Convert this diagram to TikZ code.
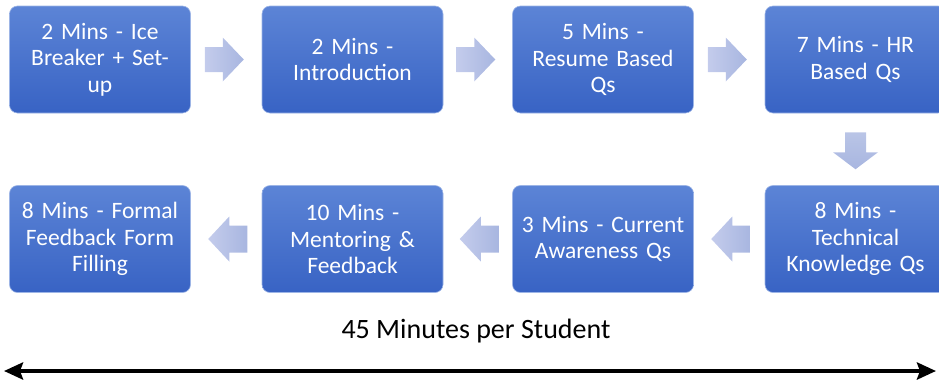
\documentclass[tikz,border=0pt]{standalone}
\usepackage{fontspec}
\setmainfont{Carlito}
\newfontfamily\boxfont[WordSpace=0.75]{Carlito}
\usetikzlibrary{calc,arrows.meta}
\definecolor{boxtop}{RGB}{92,132,214}
\definecolor{boxbot}{RGB}{56,99,196}
\definecolor{arrL}{RGB}{196,204,236}
\definecolor{arrD}{RGB}{168,182,224}
\tikzset{
  stepbox/.style={rectangle, rounded corners=8pt, minimum width=181pt, minimum height=107pt,
    top color=boxtop, bottom color=boxbot, draw=boxtop!60!white, line width=0.6pt,
    text=white, align=center, font=\boxfont\fontsize{23.5}{26.5}\selectfont, inner sep=2pt, text width=170pt},
  blockfill/.style={left color=arrL, right color=arrD, draw=none},
  blockright/.pic={\path[blockfill] (-19.5,-12.5) -- (-1.5,-12.5) -- (-1.5,-22) -- (19.5,0) -- (-1.5,22) -- (-1.5,12.5) -- (-19.5,12.5) -- cycle;},
  blockleft/.pic={\path[blockfill] (19.5,-13.5) -- (1.5,-13.5) -- (1.5,-22.5) -- (-19.5,0) -- (1.5,22.5) -- (1.5,13.5) -- (19.5,13.5) -- cycle;},
  blockdown/.pic={\path[top color=arrD!80!white, bottom color=arrD, draw=none] (-10.5,-18.5) -- (-10.5,1.5) -- (-22.5,1.5) -- (0,18.5) -- (22.5,1.5) -- (10.5,1.5) -- (10.5,-18.5) -- cycle;}
}
\begin{document}
\begin{tikzpicture}[x=1pt,y=-1pt]
\useasboundingbox (0,0) rectangle (939,381);
\clip (0,0) rectangle (939,381);
\node[stepbox] (b1) at (100,59.5) {2 Mins - Ice\\Breaker + Set-\\up};
\node[stepbox] (b2) at (352.5,59.5) {2 Mins -\\Introduction};
\node[stepbox] (b3) at (603,59.5) {5 Mins -\\Resume Based\\Qs};
\node[stepbox] (b4) at (855.5,59.5) {7 Mins - HR\\Based Qs};
\node[stepbox] (b8) at (855.5,239) {8 Mins -\\Technical\\Knowledge Qs};
\node[stepbox] (b7) at (603,239) {3 Mins - Current\\Awareness Qs};
\node[stepbox] (b6) at (352.5,239) {10 Mins -\\Mentoring \&\\Feedback};
\node[stepbox] (b5) at (100,239) {8 Mins - Formal\\Feedback Form\\Filling};
\coordinate (m12) at ($(b1.east)!0.5!(b2.west)$);
\coordinate (m23) at ($(b2.east)!0.5!(b3.west)$);
\coordinate (m34) at ($(b3.east)!0.5!(b4.west)$);
\coordinate (m48) at ($(b4.south)!0.5!(b8.north)$);
\coordinate (m87) at ($(b8.west)!0.5!(b7.east)$);
\coordinate (m76) at ($(b7.west)!0.5!(b6.east)$);
\coordinate (m65) at ($(b6.west)!0.5!(b5.east)$);
\pic at ([xshift=-2pt]m12) {blockright};
\pic at ([xshift=-2pt]m23) {blockright};
\pic at ([xshift=-2pt]m34) {blockright};
\pic at ([yshift=-1.5pt]m48) {blockdown};
\pic at ([xshift=1.5pt]m87) {blockleft};
\pic at ([xshift=1.5pt]m76) {blockleft};
\pic at ([xshift=1.5pt]m65) {blockleft};
\node[font=\fontsize{28}{32}\selectfont, text=black] (lbl) at (476,331) {45 Minutes per Student};
\coordinate (aL) at (4,371);
\coordinate (aR) at (936,371);
\draw[line width=4.5pt, {Stealth[length=19pt,width=17pt,inset=3pt]}-{Stealth[length=19pt,width=17pt,inset=3pt]}] (aL) -- (aR);
\end{tikzpicture}
\end{document}
